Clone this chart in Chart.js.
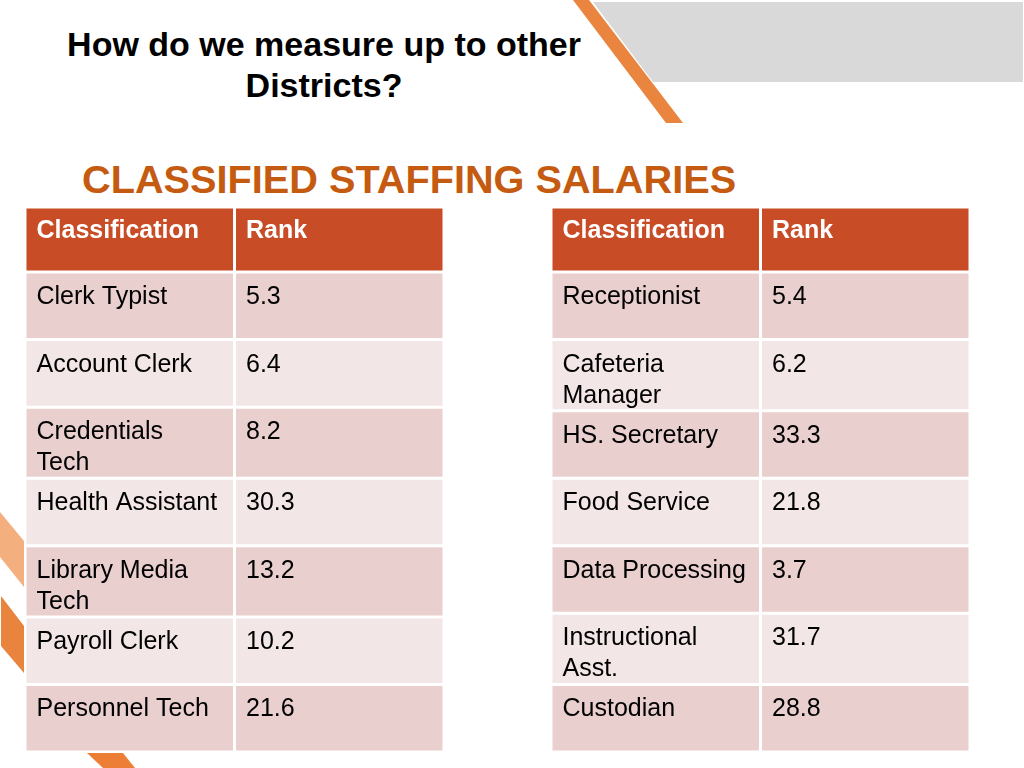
<!DOCTYPE html>
<html>
<head>
<meta charset="utf-8">
<script src="https://cdn.jsdelivr.net/npm/chart.js@4.4.1/dist/chart.umd.min.js"></script>
<style>
  html,body{margin:0;padding:0;background:#fff;}
  body{width:1024px;height:768px;overflow:hidden;position:relative;font-family:"Liberation Sans",Arial,Helvetica,sans-serif;}
  #deco{position:absolute;left:0;top:0;}
  #title{position:absolute;left:24px;top:24px;width:600px;text-align:center;font-weight:bold;font-size:34px;line-height:41px;color:#000;}
  #subtitle{position:absolute;left:82px;top:157px;font-weight:bold;font-size:39.7px;line-height:45px;color:#C55A11;white-space:nowrap;}
  .tbl{position:absolute;top:207px;width:419px;height:545px;}
  #leftBox{left:25px;}
  #rightBox{left:551px;}
</style>
</head>
<body>
<svg id="deco" width="1024" height="768">
  <polygon points="593,2 1023,2 1023,82 653,82" fill="#D9D9D9"/>
  <polygon points="573,0 589,0 683,123 666,123" fill="#EA853F"/>
  <polygon points="0,512 24,541 24,587 0,557" fill="#F4AF7E"/>
  <polygon points="1,596 24,626 24,673 1,646" fill="#E9843E"/>
  <polygon points="87,753 123,753 135,768 103,768" fill="#EC7F35"/>
</svg>
<div id="title">How do we measure up to other<br>Districts?</div>
<div id="subtitle">CLASSIFIED STAFFING SALARIES</div>
<div class="tbl" id="leftBox"><canvas id="leftTable"></canvas></div>
<div class="tbl" id="rightBox"><canvas id="rightTable"></canvas></div>
<script>
// ---- data ----
const headers = ["Classification", "Rank"];
const leftClassifications = ["Clerk Typist", "Account Clerk", "Credentials Tech", "Health Assistant", "Library Media Tech", "Payroll Clerk", "Personnel Tech"];
const leftRanks = [5.3, 6.4, 8.2, 30.3, 13.2, 10.2, 21.6];
const rightClassifications = ["Receptionist", "Cafeteria Manager", "HS. Secretary", "Food Service", "Data Processing", "Instructional Asst.", "Custodian"];
const rightRanks = [5.4, 6.2, 33.3, 21.8, 3.7, 31.7, 28.8];

// ---- styling ----
const HEADER_BG = "#C84D26";
const BAND1 = "#E9CFCE";
const BAND2 = "#F3E6E6";
const FONT = "'Liberation Sans', Arial, Helvetica, sans-serif";
const FONT_SIZE = 25;
const PAD_X = 10;
const LINE_H = 31;
const WRAP_W = 186;

const measureCtx = document.createElement("canvas").getContext("2d");
function wrap(text, bold) {
  measureCtx.font = (bold ? "bold " : "") + FONT_SIZE + "px " + FONT;
  const words = String(text).split(" ");
  const lines = [];
  let cur = "";
  for (const w of words) {
    const t = cur ? cur + " " + w : w;
    if (cur && measureCtx.measureText(t).width > WRAP_W) { lines.push(cur); cur = w; }
    else cur = t;
  }
  if (cur) lines.push(cur);
  return lines;
}

function makeTable(canvasId, classes, ranks) {
  const rows = [headers.slice()].concat(classes.map((c, i) => [c, ranks[i].toFixed(1)]));
  const wrapped = rows.map((r, i) => r.map(cell => wrap(cell, i === 0)));
  const heights = wrapped.map((r, i) => {
    if (i === 0) return 65;
    const n = Math.max(...r.map(l => l.length));
    return n > 1 ? 71 : 67.5;
  });
  const edges = [0];
  heights.forEach(h => edges.push(edges[edges.length - 1] + h));
  const total = edges[edges.length - 1];

  const datasets = rows.map((r, i) => ({
    label: i === 0 ? "header" : String(r[0]),
    data: headers.map(() => [edges[i], edges[i + 1]]),
    backgroundColor: i === 0 ? HEADER_BG : (i % 2 === 1 ? BAND1 : BAND2),
    borderColor: "#ffffff",
    borderWidth: 1.5,
    borderSkipped: false,
    inflateAmount: 0,
    barPercentage: 1,
    categoryPercentage: 1,
    grouped: false
  }));

  const textPlugin = {
    id: "cellText",
    afterDatasetsDraw(chart) {
      const ctx = chart.ctx;
      const xs = chart.scales.x, ys = chart.scales.y;
      const colW = xs.getPixelForValue(1) - xs.getPixelForValue(0);
      ctx.save();
      ctx.textAlign = "left";
      ctx.textBaseline = "alphabetic";
      wrapped.forEach((r, i) => {
        const top = ys.getPixelForValue(edges[i]);
        ctx.font = (i === 0 ? "bold " : "") + FONT_SIZE + "px " + FONT;
        ctx.fillStyle = i === 0 ? "#ffffff" : "#000000";
        r.forEach((lines, j) => {
          const left = xs.getPixelForValue(j) - colW / 2 + 1.5 + PAD_X;
          lines.forEach((ln, k) => {
            ctx.fillText(ln, left, top + (i === 0 ? 31 : 32) + k * LINE_H);
          });
        });
      });
      ctx.restore();
    }
  };

  return new Chart(document.getElementById(canvasId), {
    type: "bar",
    data: { labels: headers, datasets },
    options: {
      responsive: true,
      maintainAspectRatio: false,
      animation: false,
      events: [],
      layout: { padding: 0 },
      plugins: { legend: { display: false }, tooltip: { enabled: false }, title: { display: false } },
      scales: {
        x: { type: "category", display: false, offset: true, grid: { display: false } },
        y: { type: "linear", display: false, min: 0, max: total, reverse: true, grid: { display: false } }
      }
    },
    plugins: [textPlugin]
  });
}

makeTable("leftTable", leftClassifications, leftRanks);
makeTable("rightTable", rightClassifications, rightRanks);
</script>
</body>
</html>
